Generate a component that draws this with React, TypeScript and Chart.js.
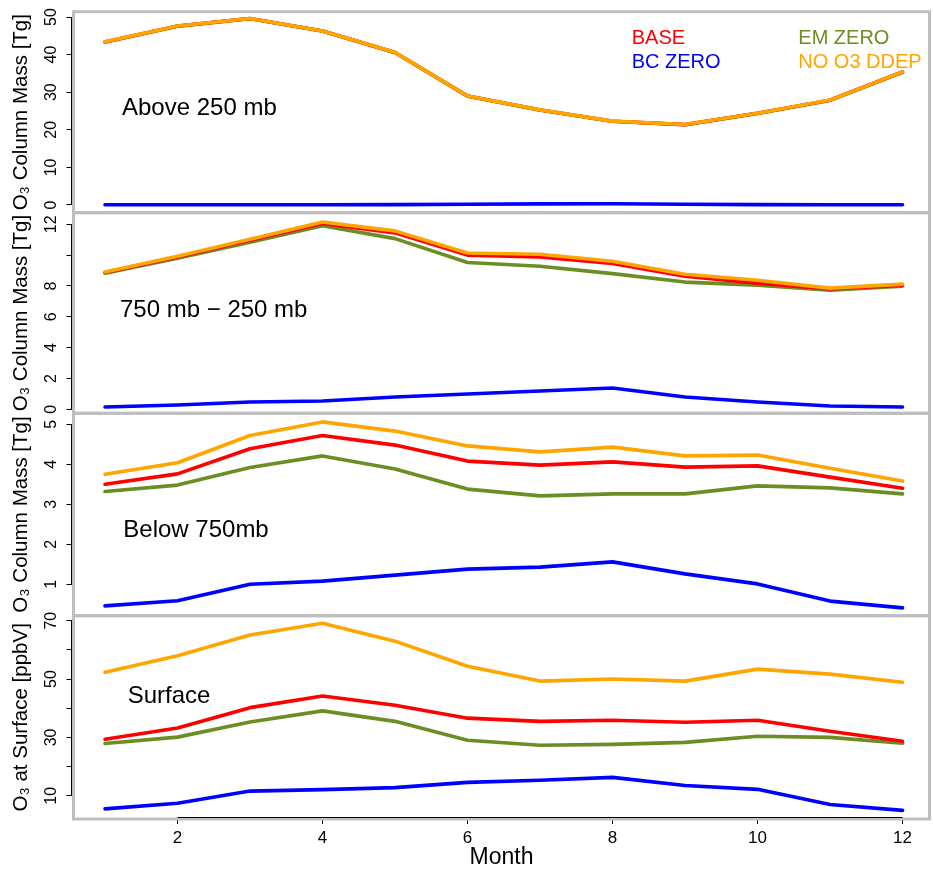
import React, { useEffect, useRef } from 'react';
import { Chart, registerables } from 'chart.js';

Chart.register(...registerables);

// ---------- data ----------
const months = [1, 2, 3, 4, 5, 6, 7, 8, 9, 10, 11, 12];
const seriesNames = ['NO O3 DDEP', 'BASE', 'EM ZERO', 'BC ZERO'];
const seriesColors = ['#FFA500', '#FF0000', '#6B8E23', '#0000FF'];

// Panel 1: Above 250 mb [Tg]  (BASE / EM ZERO lie under NO O3 DDEP)
const above250NoDdep = [43.4, 47.6, 49.6, 46.3, 40.6, 29.0, 25.3, 22.3, 21.4, 24.4, 27.9, 35.4];
const above250Base = [43.38, 47.58, 49.58, 46.28, 40.58, 28.98, 25.28, 22.28, 21.38, 24.38, 27.88, 35.38];
const above250EmZero = [43.36, 47.56, 49.56, 46.26, 40.56, 28.96, 25.26, 22.26, 21.36, 24.36, 27.86, 35.36];
const above250BcZero = [0.05, 0.05, 0.05, 0.05, 0.1, 0.2, 0.3, 0.35, 0.2, 0.1, 0.05, 0.05];

// Panel 2: 750 mb - 250 mb [Tg]
const midNoDdep = [8.91, 9.93, 11.03, 12.15, 11.57, 10.14, 10.06, 9.6, 8.76, 8.37, 7.86, 8.12];
const midBase = [8.87, 9.88, 10.97, 12.05, 11.44, 10.0, 9.88, 9.45, 8.63, 8.18, 7.8, 8.05];
const midEmZero = [8.83, 9.8, 10.84, 11.9, 11.07, 9.52, 9.28, 8.8, 8.25, 8.05, 7.73, 7.99];
const midBcZero = [0.15, 0.28, 0.47, 0.54, 0.8, 0.99, 1.19, 1.38, 0.8, 0.47, 0.21, 0.15];

// Panel 3: Below 750mb [Tg]
const below750NoDdep = [3.75, 4.04, 4.72, 5.06, 4.83, 4.46, 4.31, 4.43, 4.21, 4.23, 3.9, 3.58];
const below750Base = [3.5, 3.76, 4.39, 4.72, 4.48, 4.08, 3.98, 4.06, 3.93, 3.96, 3.68, 3.4];
const below750EmZero = [3.32, 3.48, 3.92, 4.21, 3.88, 3.38, 3.21, 3.26, 3.26, 3.46, 3.41, 3.26];
const below750BcZero = [0.46, 0.59, 1.0, 1.08, 1.23, 1.38, 1.43, 1.56, 1.26, 1.01, 0.58, 0.41];

// Panel 4: Surface [ppbV]
const surfaceNoDdep = [52.3, 58.0, 65.1, 69.1, 63.0, 54.4, 49.3, 50.0, 49.3, 53.4, 51.7, 48.9];
const surfaceBase = [29.35, 33.2, 40.2, 44.2, 41.0, 36.6, 35.5, 35.9, 35.2, 35.9, 32.1, 28.7];
const surfaceEmZero = [27.9, 30.1, 35.3, 39.1, 35.5, 29.0, 27.3, 27.6, 28.3, 30.4, 30.0, 28.0];
const surfaceBcZero = [5.5, 7.45, 11.6, 12.1, 12.8, 14.6, 15.3, 16.3, 13.5, 12.2, 7.0, 5.0];

// tick values / labels
const above250Ticks = [0, 10, 20, 30, 40, 50];
const above250TickLabels = ['0', '10', '20', '30', '40', '50'];
const midTicks = [0, 2, 4, 6, 8, 10, 12];
const midTickLabels = ['0', '2', '4', '6', '8', '', '12'];
const below750Ticks = [1, 2, 3, 4, 5];
const below750TickLabels = ['1', '2', '3', '4', '5'];
const surfaceTicks = [10, 20, 30, 40, 50, 60, 70];
const surfaceTickLabels = ['10', '', '30', '', '50', '', '70'];
const monthTicks = [2, 4, 6, 8, 10, 12];

const panelNames = ['Above 250 mb', '750 mb \u2212 250 mb', 'Below 750mb', 'Surface'];
const yTitles = ['O\u2083 Column Mass [Tg]', 'O\u2083 Column Mass [Tg]', 'O\u2083 Column Mass [Tg]', 'O\u2083 at Surface [ppbV]'];

// ---------- layout / style ----------
const W = 933;
const H = 875;
const FONT = "'Liberation Sans', Arial, Helvetica, sans-serif";
const FRAME = '#BEBEBE';
const AREA_LEFT = 73.5;
const AREA_RIGHT = 929.5;
const X_MIN = 0.5655;
const X_MAX = 12.372;
const Y_TICK_LEN = 7;
const Y_TICK_FONT = 16;
const Y_LABEL_ANCHOR = 51.2;
const X_AXIS_H = 52;

type Panel = {
  top: number;
  bottom: number;
  min: number;
  max: number;
  ticks: number[];
  tickLabels: string[];
  series: number[][];
  name: string;
  nameX: number;
  nameY: number;
  yTitle: string;
  legend?: boolean;
  xAxis?: boolean;
};

const panels: Panel[] = [
  {
    top: 11.7, bottom: 212.7, min: -2.05, max: 51.41,
    ticks: above250Ticks, tickLabels: above250TickLabels,
    series: [above250NoDdep, above250Base, above250EmZero, above250BcZero],
    name: panelNames[0], nameX: 122, nameY: 115, yTitle: yTitles[0], legend: true,
  },
  {
    top: 212.7, bottom: 413.3, min: -0.26, max: 12.75,
    ticks: midTicks, tickLabels: midTickLabels,
    series: [midNoDdep, midBase, midEmZero, midBcZero],
    name: panelNames[1], nameX: 120, nameY: 316.7, yTitle: yTitles[1],
  },
  {
    top: 413.3, bottom: 615.7, min: 0.215, max: 5.275,
    ticks: below750Ticks, tickLabels: below750TickLabels,
    series: [below750NoDdep, below750Base, below750EmZero, below750BcZero],
    name: panelNames[2], nameX: 123.3, nameY: 536.7, yTitle: yTitles[2],
  },
  {
    top: 615.7, bottom: 819, min: 2.03, max: 71.72,
    ticks: surfaceTicks, tickLabels: surfaceTickLabels,
    series: [surfaceNoDdep, surfaceBase, surfaceEmZero, surfaceBcZero],
    name: panelNames[3], nameX: 127.7, nameY: 702.5, yTitle: yTitles[3], xAxis: true,
  },
];

function buildChart(canvas: HTMLCanvasElement, p: Panel, idx: number) {
  const decor = {
    id: 'decor' + idx,
    afterDraw(chart: any) {
      const { ctx, chartArea: a, scales } = chart;
      const ys = scales.y;
      ctx.save();
      // frame
      ctx.strokeStyle = FRAME;
      ctx.lineWidth = 3;
      ctx.strokeRect(a.left, a.top, a.right - a.left, a.bottom - a.top);
      // y axis line (first to last tick)
      ctx.strokeStyle = '#000';
      ctx.lineWidth = 1;
      ctx.beginPath();
      ctx.moveTo(a.left - 2, ys.getPixelForValue(p.ticks[0]));
      ctx.lineTo(a.left - 2, ys.getPixelForValue(p.ticks[p.ticks.length - 1]));
      ctx.stroke();
      if (p.xAxis) {
        const xs = scales.x;
        ctx.beginPath();
        ctx.moveTo(xs.getPixelForValue(monthTicks[0]), a.bottom - 1.5);
        ctx.lineTo(xs.getPixelForValue(monthTicks[monthTicks.length - 1]), a.bottom - 1.5);
        ctx.stroke();
      }
      // rotated y tick labels, placed from the y scale's own ticks
      ctx.fillStyle = '#000';
      ctx.font = `${Y_TICK_FONT}px ${FONT}`;
      ctx.textAlign = 'center';
      ctx.textBaseline = 'middle';
      ys.ticks.forEach((t: any, i: number) => {
        const label = p.tickLabels[i];
        if (!label) return;
        const py = ys.getPixelForValue(t.value);
        ctx.save();
        ctx.translate(Y_LABEL_ANCHOR, py);
        ctx.rotate(-Math.PI / 2);
        ctx.fillText(label, 0, 0);
        ctx.restore();
      });
      // panel label
      ctx.font = `24px ${FONT}`;
      ctx.textAlign = 'left';
      ctx.textBaseline = 'alphabetic';
      ctx.fillText(p.name, p.nameX, p.nameY);
      // legend
      if (p.legend) {
        ctx.font = `20px ${FONT}`;
        const lx = [631.7, 631.7, 798.3, 798.3];
        const ly = [44.3, 68.3, 44.3, 68.3];
        const order = [1, 3, 2, 0];
        order.forEach((si, k) => {
          ctx.fillStyle = seriesColors[si];
          ctx.fillText(seriesNames[si], lx[k], ly[k]);
        });
      }
      ctx.restore();
    },
  };

  return new Chart(canvas, {
    type: 'line',
    data: {
      labels: months,
      datasets: p.series.map((vals, i) => ({
        label: seriesNames[i],
        data: vals.map((v, j) => ({ x: months[j], y: v })),
        borderColor: seriesColors[i],
        backgroundColor: seriesColors[i],
        borderWidth: 3.6,
        pointRadius: 0,
        tension: 0,
        fill: false,
        borderJoinStyle: 'round',
        borderCapStyle: 'round',
      })),
    },
    options: {
      responsive: false,
      animation: false,
      devicePixelRatio: 1,
      events: [],
      layout: {
        padding: {
          left: 0,
          right: W - AREA_RIGHT,
          top: p.top,
          bottom: p.xAxis ? H - p.bottom - X_AXIS_H : H - p.bottom,
        },
      },
      plugins: {
        legend: { display: false },
        tooltip: { enabled: false },
        title: { display: false },
      },
      scales: {
        x: {
          type: 'linear',
          display: !!p.xAxis,
          min: X_MIN,
          max: X_MAX,
          afterBuildTicks: (s: any) => {
            s.ticks = monthTicks.map((v) => ({ value: v }));
          },
          afterFit: (s: any) => {
            s.height = p.xAxis ? X_AXIS_H : 0;
          },
          ticks: {
            autoSkip: false,
            maxRotation: 0,
            minRotation: 0,
            padding: 4,
            color: '#000',
            font: { size: 17, family: FONT },
            callback: (v: any) => String(v),
          },
          grid: { drawOnChartArea: false, drawTicks: true, tickLength: 5, color: '#000', lineWidth: 1 },
          border: { display: false },
          title: {
            display: true,
            text: 'Month',
            color: '#000',
            font: { size: 23, family: FONT },
            padding: { top: 0, bottom: 0 },
          },
        },
        y: {
          type: 'linear',
          position: 'left',
          min: p.min,
          max: p.max,
          afterBuildTicks: (s: any) => {
            s.ticks = p.ticks.map((v) => ({ value: v }));
          },
          afterFit: (s: any) => {
            s.width = AREA_LEFT;
          },
          ticks: {
            display: false,
            autoSkip: false,
            callback: (_v: any, i: number) => p.tickLabels[i],
          },
          grid: { drawOnChartArea: false, drawTicks: true, tickLength: Y_TICK_LEN, color: '#000', lineWidth: 1 },
          border: { display: false },
          title: {
            display: true,
            text: p.yTitle,
            color: '#000',
            font: { size: 20.5, family: FONT },
            padding: { top: 9.4, bottom: 0 },
          },
        },
      },
    },
    plugins: [decor],
  } as any);
}

function PanelCanvas({ panel, idx }: { panel: Panel; idx: number }) {
  const ref = useRef<HTMLCanvasElement | null>(null);
  useEffect(() => {
    if (!ref.current) return;
    const chart = buildChart(ref.current, panel, idx);
    return () => chart.destroy();
  }, [panel, idx]);
  return (
    <canvas
      ref={ref}
      width={W}
      height={H}
      style={{ position: 'absolute', left: 0, top: 0, width: W, height: H }}
    />
  );
}

export default function App() {
  Chart.defaults.font.family = FONT;
  return (
    <div style={{ position: 'absolute', left: 0, top: 0, width: W, height: H, background: '#fff' }}>
      {panels.map((p, i) => (
        <PanelCanvas key={i} panel={p} idx={i} />
      ))}
    </div>
  );
}
